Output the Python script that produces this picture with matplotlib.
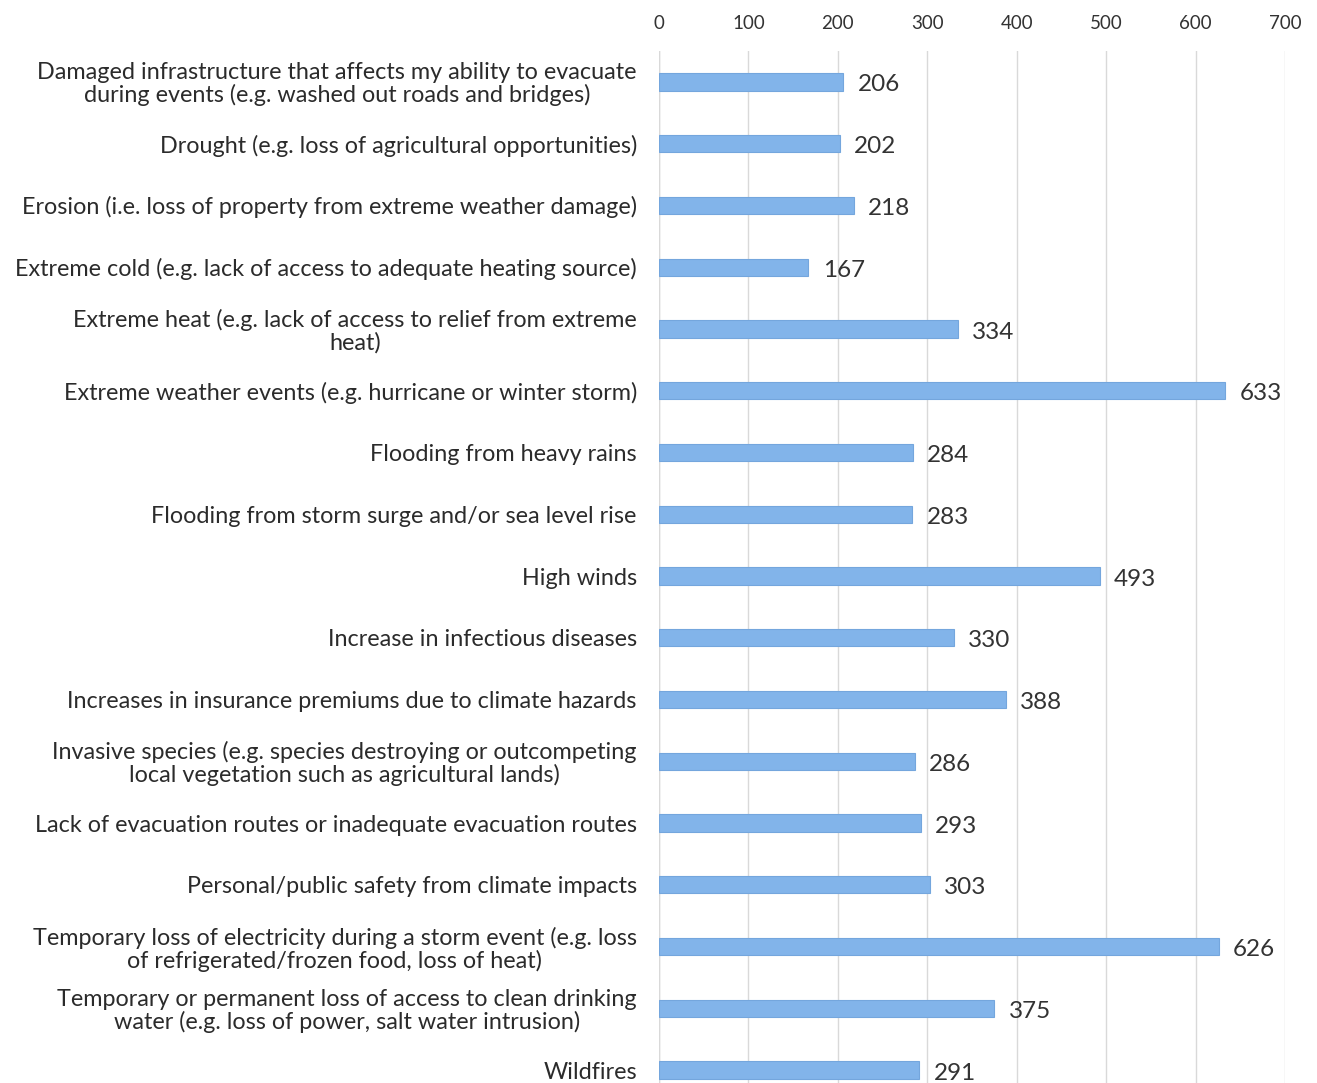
import matplotlib
matplotlib.use("Agg")
import matplotlib.pyplot as plt

categories = [
    "Damaged infrastructure that affects my ability to evacuate\nduring events (e.g. washed out roads and bridges)",
    "Drought (e.g. loss of agricultural opportunities)",
    "Erosion (i.e. loss of property from extreme weather damage)",
    "Extreme cold (e.g. lack of access to adequate heating source)",
    "Extreme heat (e.g. lack of access to relief from extreme\nheat)",
    "Extreme weather events (e.g. hurricane or winter storm)",
    "Flooding from heavy rains",
    "Flooding from storm surge and/or sea level rise",
    "High winds",
    "Increase in infectious diseases",
    "Increases in insurance premiums due to climate hazards",
    "Invasive species (e.g. species destroying or outcompeting\nlocal vegetation such as agricultural lands)",
    "Lack of evacuation routes or inadequate evacuation routes",
    "Personal/public safety from climate impacts",
    "Temporary loss of electricity during a storm event (e.g. loss\nof refrigerated/frozen food, loss of heat)",
    "Temporary or permanent loss of access to clean drinking\nwater (e.g. loss of power, salt water intrusion)",
    "Wildfires",
]
values = [206, 202, 218, 167, 334, 633, 284, 283, 493, 330, 388, 286, 293, 303, 626, 375, 291]
xticks = [0, 100, 200, 300, 400, 500, 600, 700]

plt.rcParams['font.family'] = ['Lato', 'DejaVu Sans']

W, H = 1317, 1083
fig = plt.figure(figsize=(W / 100, H / 100), dpi=100)
top_px, bot_px = 51, 1101
left_px, right_px = 659, 1285
ax = fig.add_axes([left_px / W, 1 - bot_px / H, (right_px - left_px) / W, (bot_px - top_px) / H])

y = list(range(len(categories)))
ax.barh(y, values, height=0.28, color='#82b4ea', edgecolor='#74a6dd', linewidth=0.8, zorder=3)
ax.set_xlim(0, 700)
ax.set_ylim(len(categories) - 0.5, -0.5)
ax.set_yticks(y)
ax.set_yticklabels(categories, fontsize=16.8, color='#2b2b2b', ha='right',
                   multialignment='center', linespacing=1.05)
ax.tick_params(axis='y', length=0, pad=16)
ax.xaxis.tick_top()
ax.set_xticks(xticks)
ax.set_xticklabels([str(t) for t in xticks], fontsize=13.5, color='#333333')
ax.tick_params(axis='x', length=0, pad=14)
ax.grid(axis='x', color='#d9d9d9', linewidth=1, zorder=0)
ax.axvline(0, color='#d9d9d9', linewidth=1, zorder=1)
for s in ax.spines.values():
    s.set_visible(False)

for yi, v in zip(y, values):
    ax.text(v + 16, yi + 0.05, str(v), va='center', ha='left', fontsize=17.5, color='#333333')

fig.savefig("out.png", dpi=100)
